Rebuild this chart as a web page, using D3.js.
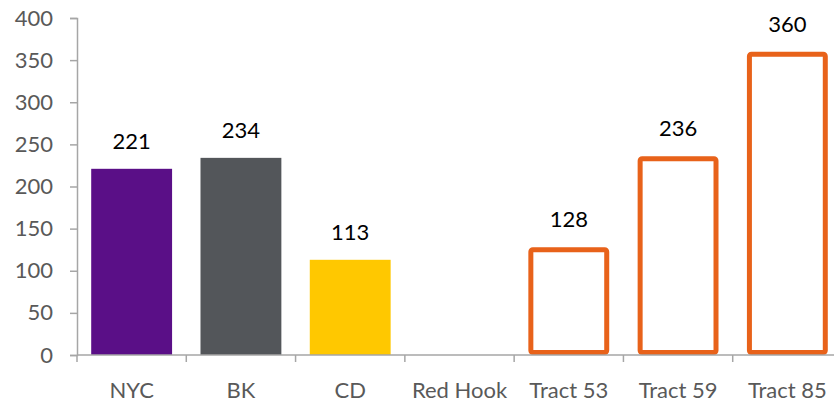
<!DOCTYPE html>
<html>
<head>
<meta charset="utf-8">
<script src="https://cdn.jsdelivr.net/npm/d3@7"></script>
<style>
  body { margin: 0; background: #fff; }
  svg { display: block; font-family: Lato, "Open Sans", sans-serif; }
</style>
</head>
<body>
<div class="chart"></div>
<script>
// categories and values
const categories = ["NYC", "BK", "CD", "Red Hook", "Tract 53", "Tract 59", "Tract 85"];
const values = [221, 234, 113, null, 128, 236, 360];
const outlined = [false, false, false, false, true, true, true];
const barColors = ["#5a0f87", "#53565a", "#ffc800", "#ffffff", "#e8621a", "#e8621a", "#e8621a"];
const yTicks = [0, 50, 100, 150, 200, 250, 300, 350, 400];

const W = 834, H = 403;
const margin = { top: 18, right: -8, bottom: 48, left: 77 },
  width = W - margin.left - margin.right,
  height = H - margin.top - margin.bottom;

const fontSize = "22px";

const svg = d3.select(".chart")
  .append("svg")
  .attr("width", W)
  .attr("height", H)
  .append("g")
  .attr("transform", "translate(" + margin.left + "," + margin.top + ")");

const x = d3.scaleBand()
  .domain(categories)
  .range([0, width])
  .paddingInner(0.26)
  .paddingOuter(0.13);

const y = d3.scaleLinear()
  .domain([0, 400])
  .range([height, 0]);

// y axis
const yAxis = svg.append("g")
  .call(d3.axisLeft(y).tickValues(yTicks).tickSize(7).tickPadding(17));
yAxis.select(".domain").attr("stroke", "#a6a6a6").attr("stroke-width", 1.5);
yAxis.selectAll(".tick line").attr("stroke", "#a6a6a6").attr("stroke-width", 1.5);
yAxis.selectAll(".tick text")
  .attr("fill", "#595959")
  .style("font-size", fontSize)
  .style("font-family", "Lato, 'Open Sans', sans-serif");

// data for bars
const data = categories.map(function (c, i) {
  return { cat: c, value: values[i], outlined: outlined[i], color: barColors[i] };
}).filter(function (d) { return d.value !== null; });

// filled bars
svg.selectAll(".bar-fill")
  .data(data.filter(function (d) { return !d.outlined; }))
  .enter()
  .append("rect")
  .attr("class", "bar-fill")
  .attr("x", function (d) { return x(d.cat); })
  .attr("y", function (d) { return y(d.value); })
  .attr("width", x.bandwidth())
  .attr("height", function (d) { return height - y(d.value); })
  .attr("fill", function (d) { return d.color; });

// outlined bars
const sw = 5;
svg.selectAll(".bar-outline")
  .data(data.filter(function (d) { return d.outlined; }))
  .enter()
  .append("rect")
  .attr("class", "bar-outline")
  .attr("x", function (d) { return x(d.cat) + sw / 2; })
  .attr("y", function (d) { return y(d.value) + sw / 2; })
  .attr("width", x.bandwidth() - sw)
  .attr("height", function (d) { return height - y(d.value) - sw; })
  .attr("rx", 2)
  .attr("fill", "none")
  .attr("stroke", function (d) { return d.color; })
  .attr("stroke-width", sw);

// x axis (category boundaries as ticks)
const xAxisG = svg.append("g")
  .attr("transform", "translate(0," + height + ")");
xAxisG.append("line")
  .attr("x1", 0).attr("x2", width)
  .attr("stroke", "#a6a6a6").attr("stroke-width", 1.5);
const step = x.step();
xAxisG.selectAll(".xtick")
  .data(d3.range(categories.length + 1))
  .enter()
  .append("line")
  .attr("class", "xtick")
  .attr("x1", function (i) { return i * step; })
  .attr("x2", function (i) { return i * step; })
  .attr("y1", 0).attr("y2", 7)
  .attr("stroke", "#a6a6a6").attr("stroke-width", 1.5);
xAxisG.selectAll(".xlabel")
  .data(categories)
  .enter()
  .append("text")
  .attr("class", "xlabel")
  .attr("x", function (d) { return x(d) + x.bandwidth() / 2; })
  .attr("y", 43)
  .attr("text-anchor", "middle")
  .attr("fill", "#595959")
  .style("font-size", fontSize)
  .text(function (d) { return d; });

// value labels
svg.selectAll(".vlabel")
  .data(data)
  .enter()
  .append("text")
  .attr("class", "vlabel")
  .attr("x", function (d) { return x(d.cat) + x.bandwidth() / 2; })
  .attr("y", function (d) { return y(d.value) - 20; })
  .attr("text-anchor", "middle")
  .attr("fill", "#000")
  .style("font-size", fontSize)
  .text(function (d) { return d.value; });
</script>
</body>
</html>
